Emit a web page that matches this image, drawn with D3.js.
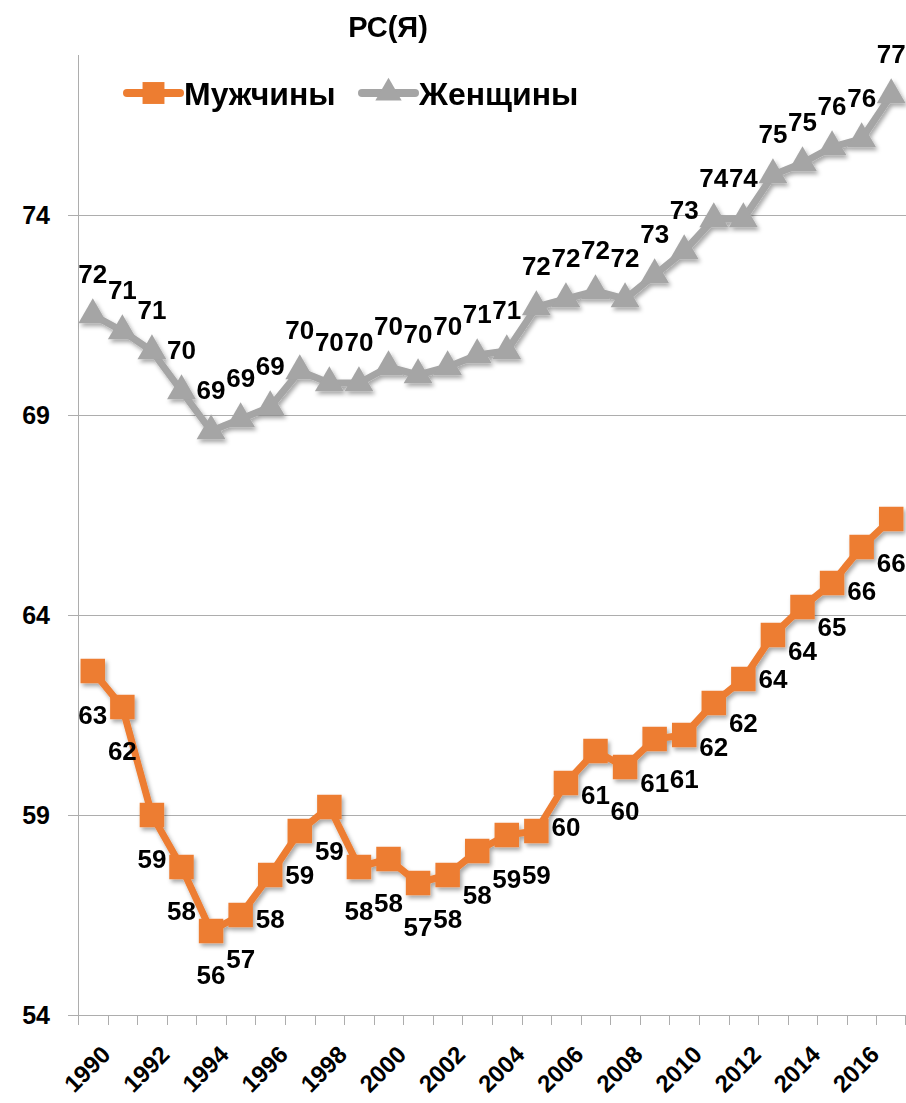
<!DOCTYPE html>
<html>
<head>
<meta charset="utf-8">
<script src="https://cdn.jsdelivr.net/npm/d3@7"></script>
<style>
  html, body { margin: 0; padding: 0; background: #fff; }
  svg { display: block; }
  text { font-family: "Liberation Sans", Arial, sans-serif; font-weight: bold; fill: #000; }
</style>
</head>
<body>
<svg id="chart" width="906" height="1103"></svg>
<script>
// ---- data ----
const years = ["1990","1991","1992","1993","1994","1995","1996","1997","1998","1999",
               "2000","2001","2002","2003","2004","2005","2006","2007","2008","2009",
               "2010","2011","2012","2013","2014","2015","2016","2017"];
const men   = [62.6,61.7,59.0,57.7,56.1,56.5,57.5,58.6,59.2,57.7,
               57.9,57.3,57.5,58.1,58.5,58.6,59.8,60.6,60.2,60.9,
               61.0,61.8,62.4,63.5,64.2,64.8,65.7,66.4];
const women = [71.5,71.1,70.6,69.6,68.6,68.9,69.2,70.1,69.8,69.8,
               70.2,70.0,70.2,70.5,70.6,71.7,71.9,72.1,71.9,72.5,
               73.1,73.9,73.9,75.0,75.3,75.7,75.9,77.0];
const menLabels   = [63,62,59,58,56,57,58,59,59,58,58,57,58,58,59,59,60,61,60,61,61,62,62,64,64,65,66,66];
const womenLabels = [72,71,71,70,69,69,69,70,70,70,70,70,70,71,71,72,72,72,72,73,73,74,74,75,75,76,76,77];
const xTickLabels = ["1990","1992","1994","1996","1998","2000","2002","2004","2006","2008","2010","2012","2014","2016"];
const yTicks = [54,59,64,69,74];
const seriesNames = ["Мужчины","Женщины"];
const chartTitle = "РС(Я)";

// ---- layout ----
const svg = d3.select("#chart");
const pL = 78, pR = 906, pT = 55, pB = 1015;
const ORANGE = "#ED7D31", GREY = "#A5A5A5";

const x = d3.scaleBand().domain(years).range([pL, pR]).paddingInner(0).paddingOuter(0);
const y = d3.scaleLinear().domain([54, 78]).range([pB, pT]);
const cx = d => x(d) + x.bandwidth() / 2;

const defs = svg.append("defs");
const f = defs.append("filter").attr("id", "sh").attr("x", "-20%").attr("y", "-20%").attr("width", "140%").attr("height", "140%");
f.append("feDropShadow").attr("dx", 2).attr("dy", 3).attr("stdDeviation", 2.2).attr("flood-color", "#000").attr("flood-opacity", 0.35);

// gridlines
svg.append("g").selectAll("line").data(yTicks).join("line")
  .attr("x1", pL - 10).attr("x2", pR)
  .attr("y1", d => Math.round(y(d)) + 0.5).attr("y2", d => Math.round(y(d)) + 0.5)
  .attr("stroke", "#ADADAD").attr("stroke-width", 1);

// y axis line
svg.append("line").attr("x1", pL + 0.5).attr("x2", pL + 0.5).attr("y1", pT).attr("y2", pB + 10)
  .attr("stroke", "#ADADAD");

// y labels
svg.append("g").selectAll("text").data(yTicks).join("text")
  .attr("x", 50).attr("y", d => y(d)).attr("dy", "0.36em")
  .attr("text-anchor", "end").attr("font-size", 25)
  .text(d => d);

// x tick marks (category boundaries)
const bounds = years.map(d => x(d)).concat([pR - 1]);
svg.append("g").selectAll("line").data(bounds).join("line")
  .attr("x1", d => Math.round(d) + 0.5).attr("x2", d => Math.round(d) + 0.5)
  .attr("y1", pB).attr("y2", pB + 10)
  .attr("stroke", "#ADADAD");

// x labels
svg.append("g").selectAll("text").data(xTickLabels).join("text")
  .attr("transform", d => `translate(${cx(d) + 13},${pB + 35}) rotate(-45)`)
  .attr("text-anchor", "end").attr("dy", "0.36em").attr("font-size", 24)
  .text(d => d);

// series
function drawSeries(vals, color, symbol, size) {
  const g = svg.append("g").attr("filter", "url(#sh)");
  const line = d3.line().x((d, i) => cx(years[i])).y(d => y(d));
  g.append("path").datum(vals).attr("d", line)
    .attr("fill", "none").attr("stroke", color).attr("stroke-width", 7).attr("stroke-linejoin", "round");
  g.selectAll("path.m").data(vals).join("path").attr("class", "m")
    .attr("d", d3.symbol().type(symbol).size(size))
    .attr("transform", (d, i) => `translate(${cx(years[i])},${y(d)})`)
    .attr("fill", color);
}
drawSeries(women, GREY, d3.symbolTriangle, 360);
drawSeries(men, ORANGE, d3.symbolSquare, 600);

// data labels
svg.append("g").selectAll("text").data(women).join("text")
  .attr("x", (d, i) => cx(years[i])).attr("y", d => y(d) - 32)
  .attr("text-anchor", "middle").attr("font-size", 26)
  .text((d, i) => womenLabels[i]);
svg.append("g").selectAll("text").data(men).join("text")
  .attr("x", (d, i) => cx(years[i])).attr("y", d => y(d) + 44).attr("dy", "0.36em")
  .attr("text-anchor", "middle").attr("font-size", 26)
  .text((d, i) => menLabels[i]);

// title
svg.append("text").attr("x", 388).attr("y", 37).attr("text-anchor", "middle")
  .attr("font-size", 29).text(chartTitle);

// legend
const lg = svg.append("g");
const legendItems = [
  { name: seriesNames[0], color: ORANGE, sym: d3.symbolSquare, size: 480, x0: 127 },
  { name: seriesNames[1], color: GREY, sym: d3.symbolTriangle, size: 300, x0: 362 }
];
legendItems.forEach(it => {
  lg.append("line").attr("x1", it.x0).attr("x2", it.x0 + 53).attr("y1", 93).attr("y2", 93)
    .attr("stroke", it.color).attr("stroke-width", 8).attr("stroke-linecap", "round");
  lg.append("path").attr("d", d3.symbol().type(it.sym).size(it.size)())
    .attr("transform", `translate(${it.x0 + 26.5},93)`).attr("fill", it.color);
  lg.append("text").attr("x", it.x0 + 57).attr("y", 93).attr("dy", "0.36em")
    .attr("font-size", 32).text(it.name);
});
</script>
</body>
</html>
